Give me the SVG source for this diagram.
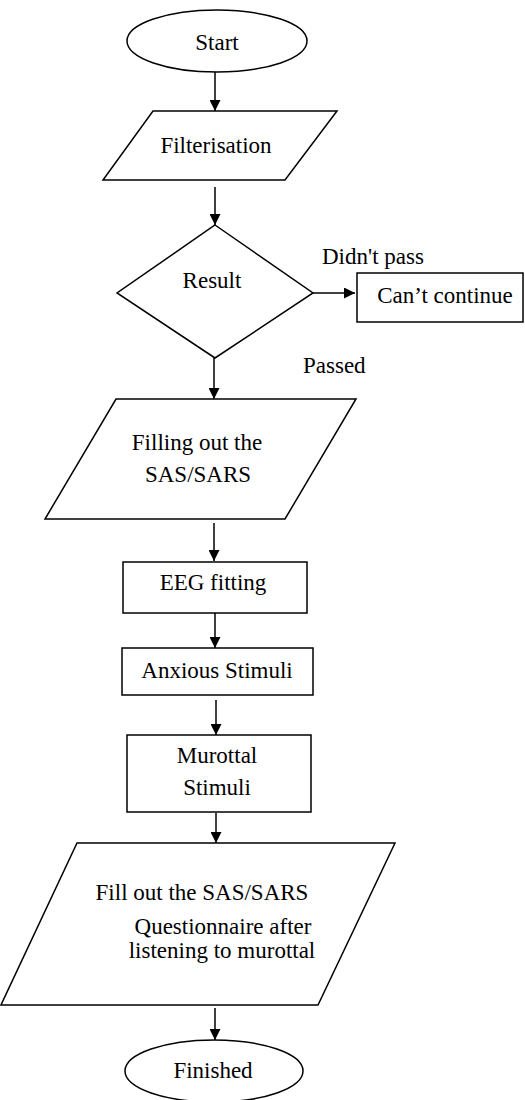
<svg xmlns="http://www.w3.org/2000/svg" width="525" height="1100" viewBox="0 0 525 1100">
<style>
.s{fill:#fff;stroke:#000;stroke-width:1.5}
.t{font-family:"Liberation Serif","Times New Roman",serif;font-size:23px;fill:#000;text-anchor:middle}
.l{font-family:"Liberation Serif","Times New Roman",serif;font-size:23px;fill:#000}
.c{stroke:#000;stroke-width:1.5;fill:none}
</style>
<defs>
<marker id="ah" markerUnits="userSpaceOnUse" markerWidth="11" markerHeight="11" refX="11" refY="5.5" orient="auto">
<path d="M0,0 L11,5.5 L0,11 z" fill="#000"/>
</marker>
</defs>
<rect width="525" height="1100" fill="#fff"/>
<g id="connectors">
<line class="c" x1="215" y1="72" x2="215" y2="111" marker-end="url(#ah)"/>
<line class="c" x1="215" y1="187" x2="215" y2="225" marker-end="url(#ah)"/>
<line class="c" x1="313" y1="293" x2="355" y2="293" marker-end="url(#ah)"/>
<line class="c" x1="214" y1="358" x2="214" y2="399" marker-end="url(#ah)"/>
<line class="c" x1="214" y1="523" x2="214" y2="561" marker-end="url(#ah)"/>
<line class="c" x1="215" y1="613" x2="215" y2="648" marker-end="url(#ah)"/>
<line class="c" x1="216" y1="700" x2="216" y2="735" marker-end="url(#ah)"/>
<line class="c" x1="216" y1="813" x2="216" y2="843" marker-end="url(#ah)"/>
<line class="c" x1="215" y1="1008" x2="215" y2="1040" marker-end="url(#ah)"/>
<text class="l" x="322" y="264">Didn't pass</text>
<text class="l" x="303" y="373">Passed</text>
</g>
<g id="start">
<ellipse class="s" cx="217" cy="41" rx="90" ry="31"/>
<text class="t" x="217" y="50">Start</text>
</g>
<g id="filterisation">
<polygon class="s" points="153,111 337,111 285,180 103,180"/>
<text class="t" x="216" y="153">Filterisation</text>
</g>
<g id="result">
<polygon class="s" points="215,225 313,293 215,358 117,293"/>
<text class="t" x="212" y="288">Result</text>
</g>
<g id="cant-continue">
<rect class="s" x="357" y="273" width="166" height="49"/>
<text class="t" x="445" y="303">Can’t continue</text>
</g>
<g id="filling-sas">
<polygon class="s" points="116,399 356,399 285,519 45,519"/>
<text class="t" x="197" y="450">Filling out the</text>
<text class="t" x="198" y="482">SAS/SARS</text>
</g>
<g id="eeg">
<rect class="s" x="123" y="562" width="184" height="51"/>
<text class="t" x="213" y="590">EEG fitting</text>
</g>
<g id="anxious">
<rect class="s" x="122" y="648" width="191" height="47"/>
<text class="t" x="217" y="678">Anxious Stimuli</text>
</g>
<g id="murottal">
<rect class="s" x="127" y="735" width="184" height="77"/>
<text class="t" x="217" y="763">Murottal</text>
<text class="t" x="217" y="795">Stimuli</text>
</g>
<g id="fill-out-after">
<polygon class="s" points="77,843 395,843 318,1005 1,1005"/>
<text class="t" x="202" y="900">Fill out the SAS/SARS</text>
<text class="t" x="223" y="934">Questionnaire after</text>
<text class="t" x="222" y="958">listening to murottal</text>
</g>
<g id="finished">
<ellipse class="s" cx="214" cy="1071" rx="89" ry="31"/>
<text class="t" x="213" y="1078">Finished</text>
</g>
</svg>
